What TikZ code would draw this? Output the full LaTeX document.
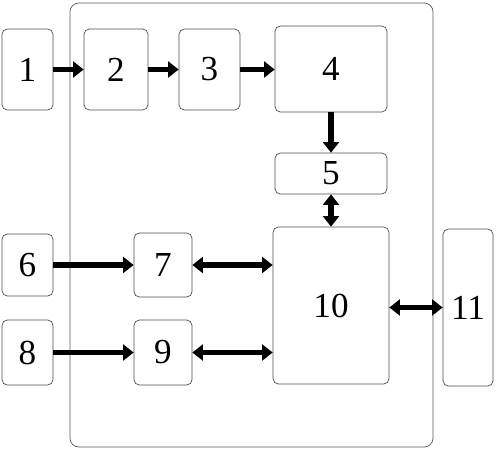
\documentclass[tikz,border=0pt]{standalone}
\usepackage{fontspec}
\setmainfont{Liberation Serif}
\usetikzlibrary{arrows.meta}

\begin{document}
\begin{tikzpicture}[x=0.02cm,y=-0.02cm,
  blk/.style={draw=black!70,rounded corners=3pt,inner sep=0pt,font=\fontsize{20}{23}\selectfont},
  link/.style={line width=3pt,-{Triangle[length=6pt,width=9pt]}},
  blink/.style={line width=3pt,{Triangle[length=6pt,width=9pt]}-{Triangle[length=6pt,width=9pt]}}]
\useasboundingbox (0,0) rectangle (499,450);
\draw[black!65,rounded corners=5pt] (70,3) rectangle (433,447);

\node[blk,minimum width=1.02cm,minimum height=1.62cm] (b1) at (27.5,69.5) {1};
\node[blk,minimum width=1.28cm,minimum height=1.62cm] (b2) at (116,69.5) {2};
\node[blk,minimum width=1.22cm,minimum height=1.62cm] (b3) at (209.5,69.5) {3};
\node[blk,minimum width=2.24cm,minimum height=1.72cm] (b4) at (331,69) {4};
\node[blk,minimum width=2.24cm,minimum height=0.82cm] (b5) at (331,173.5) {5};
\node[blk,minimum width=1.02cm,minimum height=1.24cm] (b6) at (27.5,265) {6};
\node[blk,minimum width=1.16cm,minimum height=1.28cm] (b7) at (163,265) {7};
\node[blk,minimum width=1.02cm,minimum height=1.30cm] (b8) at (27.5,352.5) {8};
\node[blk,minimum width=1.16cm,minimum height=1.30cm] (b9) at (163,352.5) {9};
\node[blk,minimum width=2.32cm,minimum height=3.14cm] (b10) at (331,305.5) {10};
\node[blk,minimum width=1.00cm,minimum height=3.14cm] (b11) at (468,307.5) {11};

\draw[link] (b1) -- (b2);
\draw[link] (b2) -- (b3);
\draw[link] (b3) -- (b3 -| b4.west);
\draw[link] (b4) -- (b5);
\draw[blink] (b5) -- (b10);
\draw[link] (b6) -- (b7);
\draw[link] (b8) -- (b9);
\draw[blink] (b7.east) -- (b7.east -| b10.west);
\draw[blink] (b9.east) -- (b9.east -| b10.west);
\draw[blink] (b10.east |- b11.west) -- (b11.west);
\end{tikzpicture}
\end{document}
